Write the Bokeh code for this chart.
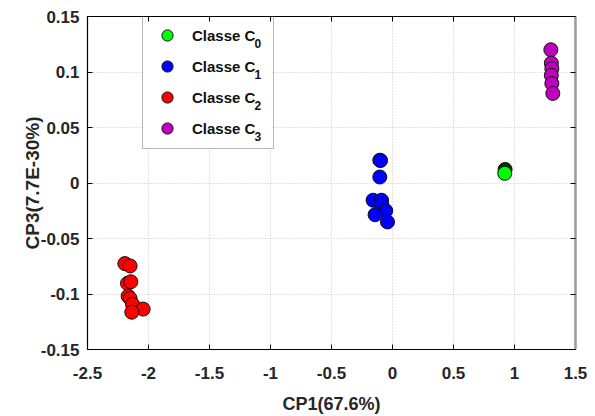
from bokeh.plotting import figure
from bokeh.models import (Range1d, FixedTicker, LinearAxis, Legend, LegendItem, Label, BoxAnnotation)
from bokeh.embed import file_html
from bokeh.resources import INLINE

# ---- data ----
c0_x = [0.920]
c0_y = [0.0087]
c0_dark_x = [0.923]
c0_dark_y = [0.0122]

c1_x = [-0.104, -0.098, -0.104, -0.159, -0.090, -0.088, -0.055, -0.143, -0.041]
c1_y = [0.0205, 0.0203, 0.0054, -0.0155, -0.0155, -0.0190, -0.0250, -0.0286, -0.0351]

c2_x = [-2.194, -2.151, -2.172, -2.145, -2.167, -2.151, -2.131, -2.044, -2.137]
c2_y = [-0.0726, -0.0747, -0.0904, -0.0890, -0.1019, -0.1040, -0.1093, -0.1136, -0.1164]

c3_x = [1.298, 1.302, 1.306, 1.302, 1.306, 1.314]
c3_y = [0.120, 0.108, 0.103, 0.097, 0.0896, 0.0807]

x_ticks = [-2.5, -2, -1.5, -1, -0.5, 0, 0.5, 1, 1.5]
x_tick_labels = ["-2.5", "-2", "-1.5", "-1", "-0.5", "0", "0.5", "1", "1.5"]
y_ticks = [-0.15, -0.1, -0.05, 0, 0.05, 0.1, 0.15]
y_tick_labels = ["-0.15", "-0.1", "-0.05", "0", "0.05", "0.1", "0.15"]

class_labels = ["Classe C", "Classe C", "Classe C", "Classe C"]
class_subs = ["0", "1", "2", "3"]
class_colors = ["#00ff00", "#0000ff", "#ff0000", "#bf00bf"]

x_label = "CP1(67.6%)"
y_label = "CP3(7.7E-30%)"

FONT = "Liberation Sans"

p = figure(width=595, height=416, output_backend="svg", toolbar_location=None,
           x_range=Range1d(-2.5, 1.5), y_range=Range1d(-0.15, 0.15),
           min_border_left=87, min_border_right=20, min_border_top=16, min_border_bottom=64)
p.background_fill_color = "white"
p.border_fill_color = "white"
p.outline_line_color = "black"
p.outline_line_width = 1

for ax, ticks, labels in ((p.xaxis[0], x_ticks, x_tick_labels), (p.yaxis[0], y_ticks, y_tick_labels)):
    ax.ticker = FixedTicker(ticks=ticks)
    ax.major_label_overrides = {t: l for t, l in zip(ticks, labels)}
    ax.minor_tick_line_color = None
    ax.major_tick_in = 5
    ax.major_tick_out = 0
    ax.axis_line_color = "black"
    ax.axis_line_width = 1.2
    ax.major_tick_line_color = "black"
    ax.major_label_text_font = FONT
    ax.major_label_text_font_style = "bold"
    ax.major_label_text_font_size = "17px"
    ax.major_label_text_color = "#262626"
    ax.axis_label_text_font = FONT
    ax.axis_label_text_font_style = "bold"
    ax.axis_label_text_color = "#262626"

p.xaxis[0].major_label_standoff = 17
p.yaxis[0].major_label_standoff = 8
p.xaxis[0].axis_label = x_label
p.yaxis[0].axis_label = y_label
p.xaxis[0].axis_label_text_font_size = "18px"
p.yaxis[0].axis_label_text_font_size = "19px"
p.xaxis[0].axis_label_standoff = 12
p.yaxis[0].axis_label_standoff = -5

top = LinearAxis(ticker=FixedTicker(ticks=x_ticks), major_label_text_color=None,
                 major_label_text_font_size="1px",
                 major_label_standoff=0, major_tick_in=5, major_tick_out=0,
                 minor_tick_line_color=None, axis_line_color="black")
right = LinearAxis(ticker=FixedTicker(ticks=y_ticks), major_label_text_color=None,
                   major_label_text_font_size="1px",
                   major_label_standoff=0, major_tick_in=5, major_tick_out=0,
                   minor_tick_line_color=None, axis_line_color="#9a9a9a", axis_line_width=2.5)
p.add_layout(top, "above")
p.add_layout(right, "right")

for g in (p.xgrid[0], p.ygrid[0]):
    g.grid_line_color = "#c4c4c4"
    g.grid_line_dash = "1 2"
    g.grid_line_width = 1
p.xgrid[0].ticker = FixedTicker(ticks=x_ticks)
p.ygrid[0].ticker = FixedTicker(ticks=y_ticks)

# legend geometry (screen px, relative to the frame's bottom-left)
LG_X, LG_Y, PAD, SP, GW, GH, LW, STAND = 55, 200, 6, 3, 36, 28, 75, 7
LG_W = 2 * PAD + GW + STAND + LW
LG_H = 2 * PAD + 4 * GH + 3 * SP

# white backing behind the legend (hides the grid there)
p.add_layout(BoxAnnotation(left=LG_X, right=LG_X + LG_W, bottom=LG_Y, top=LG_Y + LG_H,
                           left_units="screen", right_units="screen",
                           bottom_units="screen", top_units="screen",
                           fill_color="white", fill_alpha=1.0, line_color=None,
                           level="underlay"))

ms = 14
r_dark = p.scatter(c0_dark_x, c0_dark_y, size=ms, fill_color="#0b2e0b", line_color="#111111")
r1 = p.scatter(c1_x, c1_y, size=ms, fill_color=class_colors[1], line_color="#111111")
r2 = p.scatter(c2_x, c2_y, size=ms, fill_color=class_colors[2], line_color="#111111")
r3 = p.scatter(c3_x, c3_y, size=ms, fill_color=class_colors[3], line_color="#111111")
r0 = p.scatter(c0_x, c0_y, size=ms, fill_color=class_colors[0], line_color="#111111")

rens = [r0, r1, r2, r3]
legend = Legend(items=[LegendItem(label=lab, renderers=[r]) for lab, r in zip(class_labels, rens)],
                location=(LG_X, LG_Y), margin=0, padding=PAD, spacing=SP,
                glyph_width=GW, glyph_height=GH, label_height=GH, label_width=LW,
                label_standoff=STAND,
                label_text_font=FONT, label_text_font_style="bold",
                label_text_font_size="15px", label_text_color="#111111",
                border_line_color="#707070", border_line_width=1.5,
                background_fill_alpha=0.0)
p.add_layout(legend)

# subscripts of the legend labels
first_center = LG_Y + LG_H - PAD - GH / 2
for i, s in enumerate(class_subs):
    p.add_layout(Label(x=167, y=first_center - i * (GH + SP) - 6.5, x_units="screen", y_units="screen",
                       text=s, text_font=FONT, text_font_style="bold", text_font_size="12px",
                       text_color="#111111", text_align="left", text_baseline="middle",
                       level="overlay"))

open("out.html", "w").write(file_html(p, INLINE))
